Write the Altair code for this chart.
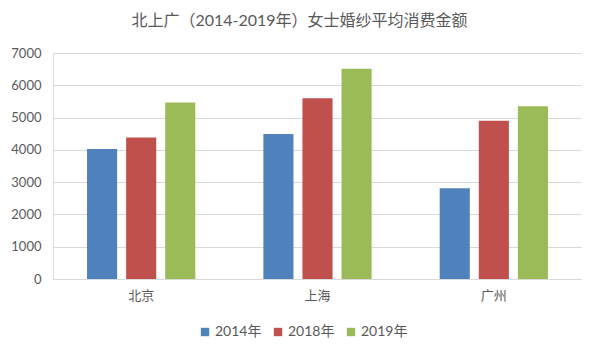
import altair as alt
import pandas as pd

cities = ["北京", "上海", "广州"]
years = ["2014年", "2018年", "2019年"]
v2014 = [4030, 4490, 2810]
v2018 = [4380, 5600, 4900]
v2019 = [5470, 6510, 5350]
colors = ["#4F81BD", "#C0504D", "#9BBB59"]

rows = []
for i, c in enumerate(cities):
    for y, vals in zip(years, [v2014, v2018, v2019]):
        rows.append({"city": c, "year": y, "value": vals[i]})
df = pd.DataFrame(rows)

FONT = "Lato, Noto Sans CJK SC"

chart = alt.Chart(df).mark_bar().encode(
    x=alt.X("city:N", sort=cities, title=None,
            scale=alt.Scale(paddingInner=0.386, paddingOuter=0.193),
            axis=alt.Axis(labelAngle=0, ticks=False, domainColor="#D9D9D9",
                          labelColor="#595959", labelFontSize=13, labelPadding=10,
                          labelFont=FONT)),
    xOffset=alt.XOffset("year:N", sort=years,
                        scale=alt.Scale(paddingInner=0.23, paddingOuter=0)),
    y=alt.Y("value:Q", title=None,
            scale=alt.Scale(domain=[0, 7000], nice=False),
            axis=alt.Axis(values=list(range(0, 7001, 1000)), format="d", ticks=False,
                          domain=False, gridColor="#D9D9D9", labelColor="#595959",
                          labelFontSize=13, labelPadding=12, labelFont=FONT)),
    color=alt.Color("year:N", sort=years, scale=alt.Scale(domain=years, range=colors),
                    legend=alt.Legend(title=None, orient="none", direction="horizontal",
                                      legendX=145, legendY=272, symbolType="square",
                                      symbolSize=70, symbolStrokeWidth=0,
                                      labelFontSize=14, labelColor="#595959",
                                      labelFont=FONT, columnPadding=9, labelOffset=3)),
).properties(
    width=529, height=226,
    title=alt.TitleParams("北上广（2014-2019年）女士婚纱平均消费金额", fontSize=16,
                          font=FONT, color="#595959", fontWeight="normal",
                          anchor="middle", frame="group", dx=-18, offset=18),
    autosize=alt.AutoSizeParams(type="none"),
    padding={"left": 45, "top": 45, "right": 0, "bottom": 60},
).configure_view(stroke=None).configure(background="white")

chart.save("out.html", embed_options={"renderer": "svg", "actions": False})
